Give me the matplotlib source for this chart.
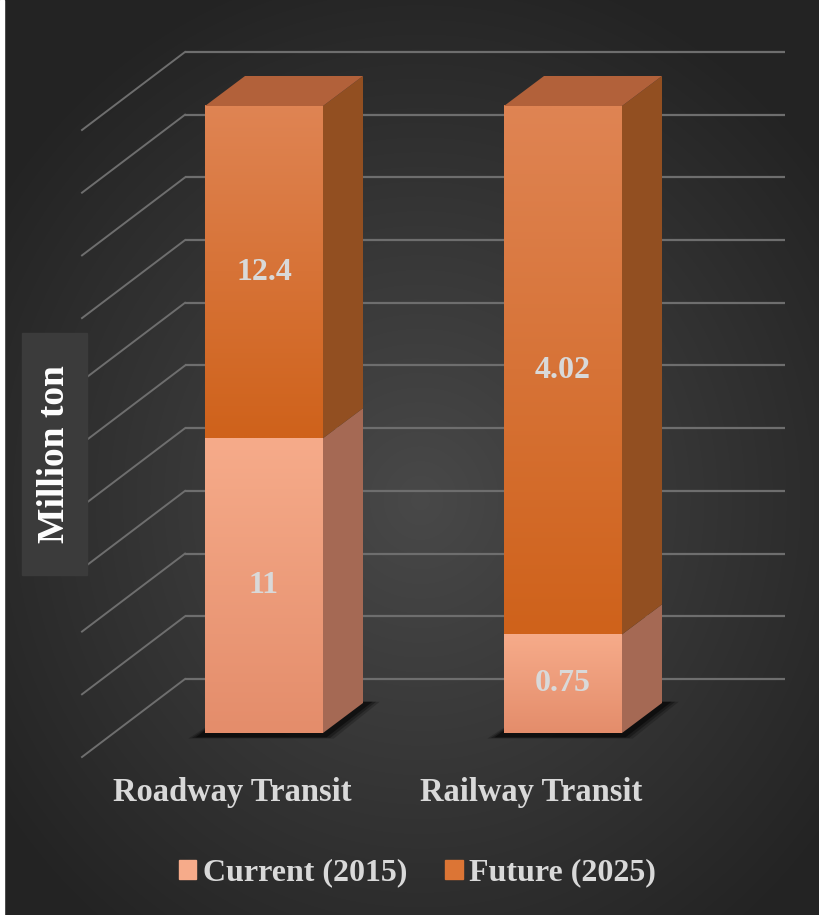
import numpy as np
import matplotlib.pyplot as plt
from matplotlib.patches import Polygon, Rectangle, Patch

# data
categories = ["Roadway Transit", "Railway Transit"]
series_names = ["Current (2015)", "Future (2025)"]
current = [11, 0.75]
future = [12.4, 4.02]
grid_pct = list(range(0, 101, 10))

plt.rcParams['font.family'] = ['Liberation Serif', 'DejaVu Serif']
plt.rcParams['font.weight'] = 'bold'

W, H = 820, 915
fig = plt.figure(figsize=(W / 100, H / 100), dpi=100)
ax = fig.add_axes([0, 0, 1, 1])

# pixel -> data scale: bar 0 at x=264px, bar 1 at 563px; 0% at y=733px, 100% at 106px
px_per_unit = 299.0
px_per_pct = 6.27
x0, x1 = -264 / px_per_unit, (W - 264) / px_per_unit
y0, y1 = (733 - H) / px_per_pct, 733 / px_per_pct
ax.set_xlim(x0, x1)
ax.set_ylim(y0, y1)
ax.axis('off')

# background radial gradient
yy, xx = np.mgrid[0:H, 0:W]
r = np.sqrt(((xx - 420) / 560.0) ** 2 + ((yy - 500) / 600.0) ** 2)
shade = np.clip(0.285 - 0.16 * r, 0.14, 0.3)
bg = np.dstack([shade, shade, shade])
ax.imshow(bg, extent=[x0, x1, y0, y1], origin='upper', aspect='auto', zorder=0)
fig.patches.append(Rectangle((0, 0), 4 / W, 1, transform=fig.transFigure, color='white', zorder=10))

# back wall grid
back_off = 54 / px_per_pct
gx_left, gx_right = (185 - 264) / px_per_unit, (785 - 264) / px_per_unit
diag_dx, diag_dy = -103 / px_per_unit, -78 / px_per_pct
for p in grid_pct:
    yb = p + back_off
    ax.plot([gx_left, gx_right], [yb, yb], color='#6e6e6e', lw=1.6, zorder=1, solid_capstyle='butt')
    ax.plot([gx_left + diag_dx, gx_left], [yb + diag_dy, yb], color='#6e6e6e', lw=1.4, zorder=1)

# 3d bars
bw = 118 / px_per_unit
dx = 40 / px_per_unit
dy = 30 / px_per_pct

front_cols = [('#f6ab8a', '#e48d6b'), ('#df8453', '#cf621b')]
side_cols = ['#a56954', '#924f21']
top_col = '#b2613a'
label_col = '#d9d9d9'


def grad_face(xa, xb, ya, yb, ctop, cbot, z):
    c1 = np.array(plt.matplotlib.colors.to_rgb(ctop))
    c2 = np.array(plt.matplotlib.colors.to_rgb(cbot))
    t = np.linspace(0, 1, 64)[:, None]
    g = (c1 * (1 - t) + c2 * t)[:, None, :]
    g = np.repeat(g, 2, axis=1)
    ax.imshow(g, extent=[xa, xb, ya, yb], origin='upper', aspect='auto', zorder=z, interpolation='bilinear')


for i, cat in enumerate(categories):
    tot = current[i] + future[i]
    pcts = [current[i] / tot * 100, future[i] / tot * 100]
    xl, xr = i - bw / 2, i + bw / 2
    # shadow
    for k, a in enumerate([0.2, 0.3, 0.45]):
        e = 0.012 * (3 - k)
        sh = Polygon([(xl - e - 0.02, -0.6 - e * 8), (xr + e, -0.6 - e * 8),
                      (xr + dx + e + 0.02, dy + 0.2), (xl + dx, dy + 0.2)],
                     closed=True, color='black', alpha=a, lw=0, zorder=2)
        ax.add_patch(sh)
    base = 0
    for s in range(2):
        top = base + pcts[s]
        grad_face(xl, xr, base, top, front_cols[s][0], front_cols[s][1], 3)
        side = Polygon([(xr, base), (xr + dx, base + dy), (xr + dx, top + dy), (xr, top)],
                       closed=True, color=side_cols[s], lw=0, zorder=3)
        ax.add_patch(side)
        val = current[i] if s == 0 else future[i]
        ax.text(i, (base + top) / 2, f"{val:g}", ha='center', va='center',
                fontsize=23, fontweight='bold', color=label_col, zorder=5)
        base = top
    topface = Polygon([(xl, 100), (xl + dx, 100 + dy), (xr + dx, 100 + dy), (xr, 100)],
                      closed=True, color=top_col, lw=0, zorder=3)
    ax.add_patch(topface)
    ax.text(i - 0.105, (733 - 793) / px_per_pct, cat, ha='center', va='center',
            fontsize=23.5, fontweight='bold', color=label_col, zorder=5)

# y label with box
fig.patches.append(Rectangle((22 / W, 1 - 575 / H), 65 / W, 242 / H, transform=fig.transFigure,
                             color='#3b3b3b', zorder=1))
fig.text(55 / W, 1 - 454 / H, "Million ton", rotation=90, ha='center', va='center',
         fontsize=27, fontweight='bold', color='white', zorder=5)

handles = [Patch(color=front_cols[0][0]), Patch(color='#dc7535')]
leg = fig.legend(handles, series_names, loc='center', bbox_to_anchor=(0.509, 1 - 873 / H),
                 ncol=2, frameon=False, fontsize=23, handlelength=0.55, handleheight=0.55,
                 handletextpad=0.2, columnspacing=1.2)
for t in leg.get_texts():
    t.set_color(label_col)
    t.set_fontweight('bold')

fig.savefig('out.png', dpi=100)
